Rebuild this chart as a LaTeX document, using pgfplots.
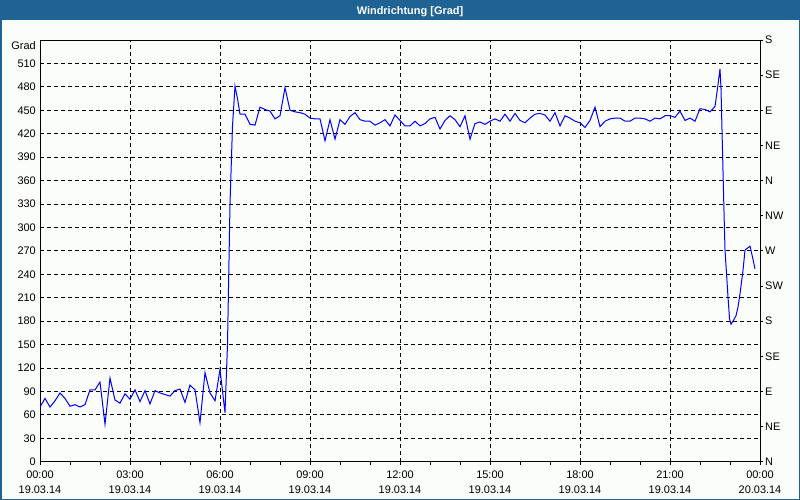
\documentclass[border=0pt]{standalone}
\usepackage{fontspec}
\setmainfont{Liberation Sans}
\usepackage{pgfplots}
\pgfplotsset{compat=1.18}
\definecolor{bar-blue}{HTML}{1E6394}
\definecolor{page-bg}{HTML}{FBFDFB}
\definecolor{wind-line}{HTML}{0000FF}

% wind direction, 10-minute values, x in minutes since 19.03.14 00:00
\pgfplotstableread{
m    deg
0    70
10   81
20   70
30   78
40   88
50   81
60   71
70   73
80   70
90   73
100  92
110  92
120  102
130  48
140  107
150  79
160  75
170  87
180  80
190  92
200  77
210  91
220  74
230  91
240  88
250  86
260  84
270  91
280  93
290  76
300  98
310  92
320  50
330  114
340  88
350  78
360  118
370  63
375  150
380  330
385  430
390  481
395  465
400  445
410  445
420  432
430  431
440  454
450  451
460  449
470  439
480  443
490  479
500  450
510  448
520  447
530  445
540  440
550  439
560  439
570  411
580  438
590  413
600  438
610  432
620  442
630  447
640  438
650  436
660  436
670  431
680  434
690  438
700  430
710  444
720  437
730  430
740  430
750  436
760  430
770  433
780  439
790  441
800  426
810  437
820  443
830  438
840  429
850  443
860  413
870  433
880  435
890  432
900  436
910  439
920  436
930  445
940  436
950  446
960  437
970  434
980  440
990  445
1000 446
1010 444
1020 436
1030 447
1040 430
1050 443
1060 440
1070 436
1080 434
1090 428
1100 437
1110 454
1120 429
1130 436
1140 439
1150 440
1160 440
1170 436
1180 436
1190 440
1200 440
1210 439
1220 436
1230 440
1240 439
1250 443
1260 443
1270 441
1280 449
1290 437
1300 440
1310 436
1320 452
1330 451
1340 448
1350 455
1355 478
1360 503
1362 478
1364 425
1366 372
1368 320
1370 271
1373 241
1376 211
1379 183
1382 176
1387 181
1392 187
1396 198
1400 215
1406 245
1410 271
1416 274
1420 276
1425 262
1430 247
}\winddata

\begin{document}
\begin{tikzpicture}
\useasboundingbox (0,0) rectangle (800bp,500bp);
\fill[page-bg] (0,0) rectangle (800bp,500bp);
\fill[bar-blue] (0,479.5bp) rectangle (800bp,500bp);
\draw[bar-blue, line width=1.5bp] (0.75bp,0.75bp) rectangle (799.25bp,499.25bp);
\node[anchor=base, text=white, font=\fontsize{11}{13}\selectfont\bfseries] at (410bp,485bp) {Windrichtung [Grad]};
\node[anchor=east, inner sep=0pt, font=\fontsize{11}{13}\selectfont] at (36bp,454bp) {Grad};

\begin{axis}[
    at={(40bp,38.3bp)}, anchor=south west,
    width=720bp, height=421.7bp, scale only axis,
    xmin=0, xmax=1440, ymin=0, ymax=540,
    xtick={0,180,...,1440},
    xticklabels={{00:00\\19.03.14},{03:00\\19.03.14},{06:00\\19.03.14},{09:00\\19.03.14},{12:00\\19.03.14},{15:00\\19.03.14},{18:00\\19.03.14},{21:00\\19.03.14},{00:00\\20.03.14}},
    minor x tick num=2,
    ytick={0,30,...,510},
    grid=major,
    major grid style={black, dash pattern=on 4bp off 3bp, line width=0.8bp},
    axis line style={black, line width=1bp},
    tick align=outside, xtick pos=bottom, ytick pos=left,
    major tick length=3bp, minor tick length=3bp,
    tick style={black, line width=0.8bp},
    ytick style={draw=none},
    /pgf/number format/assume math mode=true,
    tick label style={font=\fontsize{11}{15}\selectfont},
    xticklabel style={align=center, inner sep=0pt, yshift=-6.3bp},
    yticklabel style={inner sep=0pt, xshift=-1bp},
]
\addplot[wind-line, line width=1bp, mark=none] table[x=m, y=deg] {\winddata};
\end{axis}

\begin{axis}[
    at={(40bp,38.3bp)}, anchor=south west,
    width=720bp, height=421.7bp, scale only axis,
    xmin=0, xmax=1440, ymin=0, ymax=540,
    axis x line=none, axis y line*=right,
    axis line style={black, line width=1bp, -},
    ytick={0,45,...,540},
    yticklabels={N,NE,E,SE,S,SW,W,NW,N,NE,E,SE,S},
    tick align=outside, major tick length=3bp,
    tick style={black, line width=0.8bp},
    tick label style={font=\fontsize{11}{15}\selectfont},
    yticklabel style={inner sep=0pt, xshift=2bp},
]
\end{axis}
\end{tikzpicture}
\end{document}
